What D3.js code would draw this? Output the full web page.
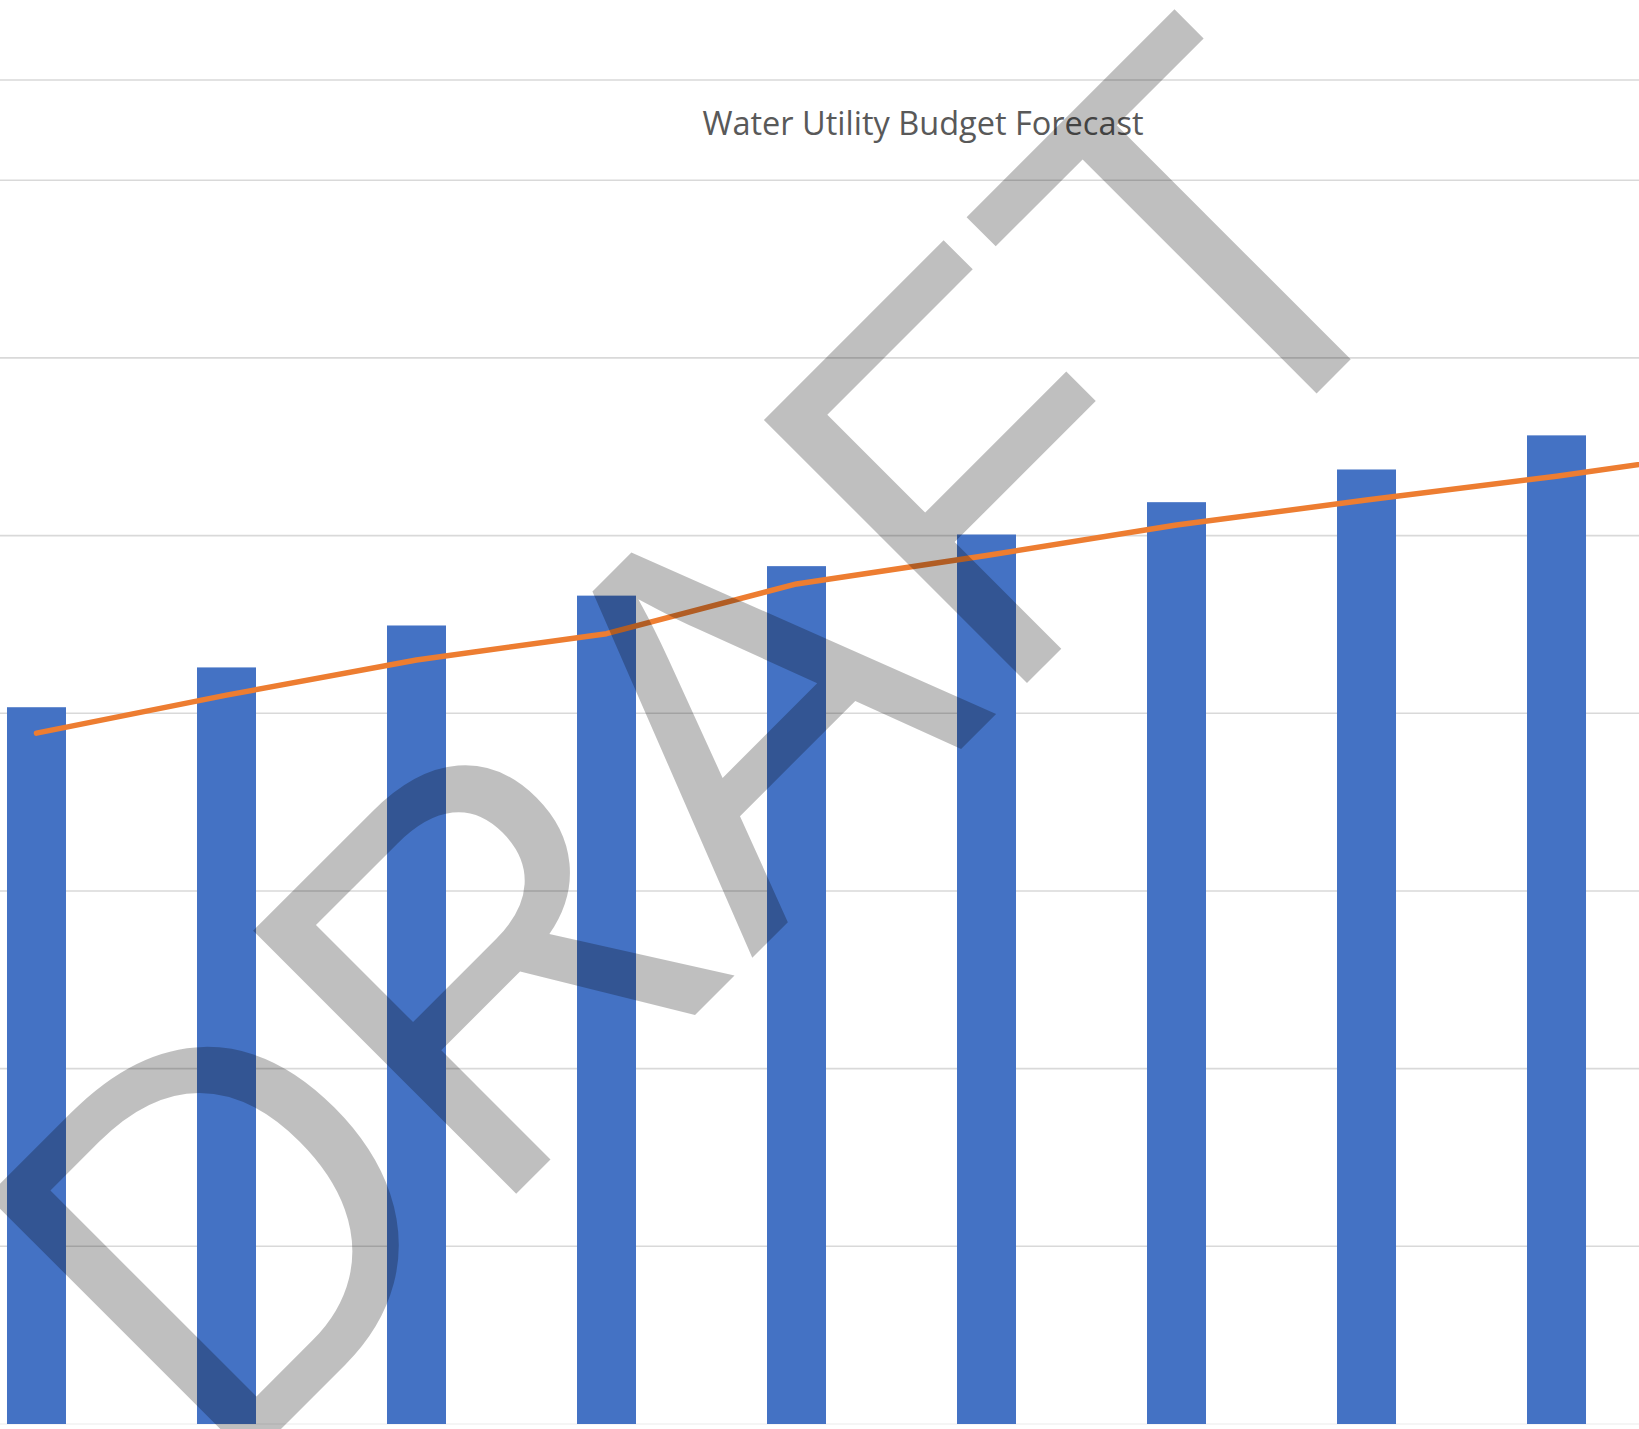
<!DOCTYPE html>
<html>
<head>
<meta charset="utf-8">
<script src="https://cdn.jsdelivr.net/npm/d3@7"></script>
<style>
    html, body { margin: 0; padding: 0; background: #ffffff; }
    svg { display: block; }
</style>
</head>
<body>
<div id="div-chart"></div>
<script>
"use strict";

// fiscal years (axis labels fall outside the visible crop)
const categories = ["FY1", "FY2", "FY3", "FY4", "FY5", "FY6", "FY7", "FY8", "FY9", "FY10"];
// bar series ($M)
const budgetValues = [20.17, 21.29, 22.47, 23.31, 24.14, 25.03, 25.94, 26.86, 27.82, 28.75];
// line series ($M)
const forecastValues = [19.44, 20.51, 21.50, 22.24, 23.64, 24.44, 25.30, 26.00, 26.67, 27.43];
// gridline values
const tickValues = [0, 5, 10, 15, 20, 25, 30, 35];
const yMax = 37.82;

const titleText = "Water Utility Budget Forecast";
const watermarkText = "DRAFT";

/**
 * @class
 */
class BudgetChart {

    /**
     * @constructor
     */
    constructor() {
        this.width = 1639;
        this.height = 1429;
        this.svg = d3.select("#div-chart")
            .append("svg")
            .attr("width", this.width)
            .attr("height", this.height);
        this.colors = {
            bar: "#4472C4",
            line: "#ED7D31",
            grid: "#D9D9D9",
            title: "#595959"
        };
    }

    build() {
        const svg = this.svg;

        svg.append("rect").attr("width", this.width).attr("height", this.height).attr("fill", "#fff");

        // plot area runs past both edges of the picture
        const x = d3.scaleBand()
            .domain(categories)
            .range([-58.5, -58.5 + 190 * categories.length])
            .paddingInner(0.6895)
            .paddingOuter(0.3447);

        const y = d3.scaleLinear()
            .domain([0, yMax])
            .range([1424, 80]);

        svg.append("g").attr("class", "grid")
            .selectAll("line")
            .data(tickValues.concat([yMax]))
            .join("line")
            .attr("x1", 0).attr("x2", this.width)
            .attr("y1", d => y(d)).attr("y2", d => y(d))
            .attr("stroke", this.colors.grid)
            .attr("stroke-width", d => (d === 0 ? 1 : 1.6))
            .attr("stroke-opacity", d => (d === 0 ? 0.5 : 1));

        svg.append("text")
            .attr("x", 923).attr("y", 135)
            .attr("text-anchor", "middle")
            .attr("font-family", "'Open Sans', sans-serif")
            .attr("font-size", 32.5)
            .attr("fill", this.colors.title)
            .text(titleText);

        svg.append("g").attr("class", "bars")
            .selectAll("rect")
            .data(categories)
            .join("rect")
            .attr("x", d => x(d))
            .attr("width", x.bandwidth())
            .attr("y", (d, i) => y(budgetValues[i]))
            .attr("height", (d, i) => y(0) - y(budgetValues[i]))
            .attr("fill", this.colors.bar);

        const line = d3.line()
            .x((d, i) => x(categories[i]) + x.bandwidth() / 2)
            .y(d => y(d));

        svg.append("path")
            .datum(forecastValues)
            .attr("d", line)
            .attr("fill", "none")
            .attr("stroke", this.colors.line)
            .attr("stroke-width", 5.5)
            .attr("stroke-linecap", "round")
            .attr("stroke-linejoin", "round");

        // taller caps than Liberation Sans draws, so stretch a little upward
        svg.append("text")
            .attr("transform", "translate(220.5,1489.5) rotate(-45) scale(1,1.04)")
            .attr("font-family", "'Liberation Sans', Arial, sans-serif")
            .attr("font-size", 520)
            .attr("fill", "#000")
            .attr("fill-opacity", 0.25)
            .text(watermarkText);
    }
}

new BudgetChart().build();
</script>
</body>
</html>
